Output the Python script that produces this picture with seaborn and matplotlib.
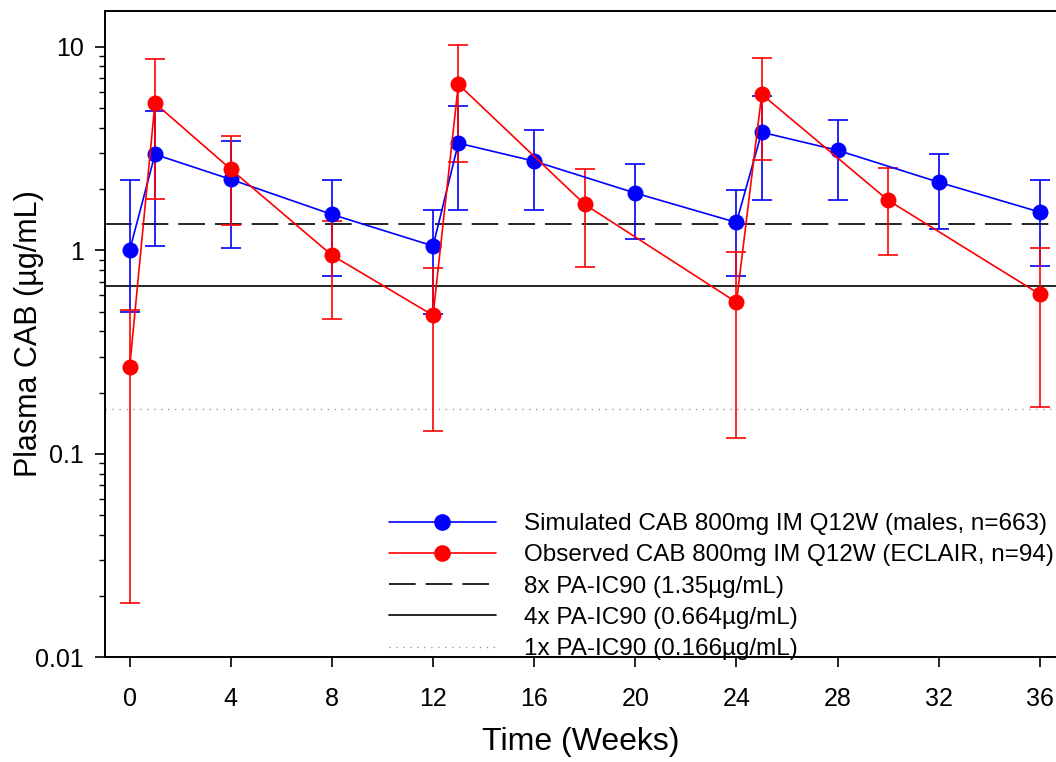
import numpy as np
import pandas as pd
import matplotlib
matplotlib.use("Agg")
import matplotlib.pyplot as plt
import seaborn as sns
from matplotlib.lines import Line2D
from matplotlib.ticker import FixedLocator, LogLocator, NullFormatter

# simulated (blue) geometric mean and 90% interval
sim_week = [0, 1, 4, 8, 12, 13, 16, 20, 24, 25, 28, 32, 36]
sim_mid = [1.00, 2.96, 2.23, 1.50, 1.05, 3.36, 2.74, 1.91, 1.37, 3.80, 3.10, 2.16, 1.54]
sim_lo = [0.50, 1.05, 1.03, 0.745, 0.485, 1.57, 1.57, 1.13, 0.745, 1.76, 1.76, 1.27, 0.834]
sim_hi = [2.21, 4.82, 3.43, 2.21, 1.57, 5.10, 3.89, 2.65, 1.97, 5.71, 4.35, 2.96, 2.21]

# observed ECLAIR (red)
obs_week = [0, 1, 4, 8, 12, 13, 18, 24, 25, 30, 36]
obs_mid = [0.266, 5.28, 2.50, 0.945, 0.479, 6.54, 1.68, 0.555, 5.84, 1.76, 0.608]
obs_lo = [0.0184, 1.78, 1.33, 0.458, 0.129, 2.71, 0.824, 0.120, 2.77, 0.945, 0.169]
obs_hi = [0.507, 8.69, 3.63, 1.40, 0.816, 10.2, 2.50, 0.977, 8.80, 2.53, 1.03]

ref_vals = [1.35, 0.664, 0.166]
ref_labels = ["8x PA-IC90 (1.35\u00b5g/mL)", "4x PA-IC90 (0.664\u00b5g/mL)", "1x PA-IC90 (0.166\u00b5g/mL)"]
sim_label = "Simulated CAB 800mg IM Q12W (males, n=663)"
obs_label = "Observed CAB 800mg IM Q12W (ECLAIR, n=94)"

sns.set_style("white")
plt.rcParams["font.family"] = ["Liberation Sans", "DejaVu Sans"]
plt.rcParams.update({"text.color": "black", "axes.labelcolor": "black",
                     "xtick.color": "black", "ytick.color": "black"})

sim = pd.DataFrame({"week": sim_week, "conc": sim_mid, "lo": sim_lo, "hi": sim_hi})
obs = pd.DataFrame({"week": obs_week, "conc": obs_mid, "lo": obs_lo, "hi": obs_hi})

fig = plt.figure(figsize=(10.56, 7.62), dpi=100)
ax = fig.add_axes([0.0991, 0.1374, 0.9009, 0.8486])

lw = 1.2
dash = (16, 6)
# reference lines
ax.axhline(ref_vals[0], color="black", lw=lw, dashes=dash, zorder=1)
ax.axhline(ref_vals[1], color="black", lw=lw, zorder=1)
ax.axhline(ref_vals[2], color="#9a9a9a", lw=1.0, dashes=(1, 4), zorder=1)

for d, col in [(sim, "blue"), (obs, "red")]:
    ax.errorbar(d["week"], d["conc"], yerr=[d["conc"] - d["lo"], d["hi"] - d["conc"]],
                fmt="none", ecolor=col, elinewidth=lw, capsize=7, capthick=lw, zorder=2)
    sns.lineplot(data=d, x="week", y="conc", color=col, lw=lw, marker="o",
                 markersize=11.5, markeredgewidth=0, ax=ax, zorder=3)

ax.set_yscale("log")
ax.set_ylim(0.01, 15.04)
ax.set_xlim(-0.99, 36.64)
ax.xaxis.set_major_locator(FixedLocator(range(0, 37, 4)))
ax.yaxis.set_major_locator(FixedLocator([0.01, 0.1, 1, 10]))
ax.set_yticklabels(["0.01", "0.1", "1", "10"])
ax.yaxis.set_minor_locator(LogLocator(base=10, subs=np.arange(2, 10)))
ax.yaxis.set_minor_formatter(NullFormatter())

for s in ["left", "bottom", "top"]:
    ax.spines[s].set_color("black")
    ax.spines[s].set_linewidth(1.4)
ax.spines["right"].set_visible(False)
ax.tick_params(axis="both", which="major", direction="out", length=7.2, width=1.2,
               color="black", labelcolor="black", labelsize=18, left=True, bottom=True)
ax.tick_params(axis="x", which="major", pad=14)
ax.tick_params(axis="y", which="major", pad=8)
ax.tick_params(axis="y", which="minor", direction="out", length=4, width=1.0, color="black", left=True)

ax.set_xlabel("Time (Weeks)", fontsize=23, labelpad=12, color="black")
ax.set_ylabel("Plasma CAB (\u00b5g/mL)", fontsize=22, color="black")
ax.yaxis.set_label_coords(-0.064, 0.5)

handles = [
    Line2D([], [], color="blue", lw=lw, marker="o", markersize=12, markeredgewidth=0),
    Line2D([], [], color="red", lw=lw, marker="o", markersize=12, markeredgewidth=0),
    Line2D([], [], color="black", lw=lw, dashes=dash),
    Line2D([], [], color="black", lw=lw),
    Line2D([], [], color="#9a9a9a", lw=1.0, dashes=(1, 4)),
]
leg = ax.legend(handles, [sim_label, obs_label] + ref_labels, loc="upper left",
                bbox_to_anchor=(389 / 1056, 1 - 513 / 762), bbox_transform=fig.transFigure,
                frameon=False, fontsize=17.5, handlelength=4.4, handletextpad=1.15,
                labelspacing=0.38, borderpad=0, borderaxespad=0)
for t in leg.get_texts():
    t.set_color("black")

fig.savefig("out.png", dpi=100)
